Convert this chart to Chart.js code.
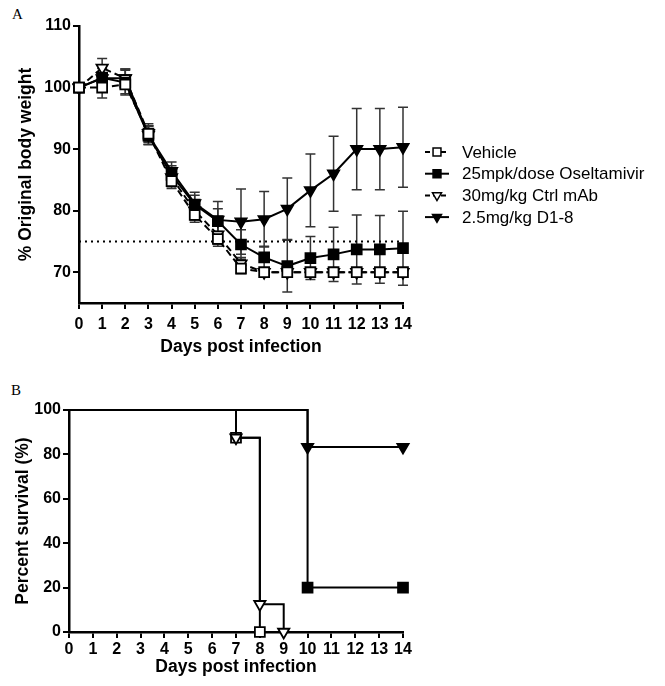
<!DOCTYPE html>
<html>
<head>
<meta charset="utf-8">
<script src="https://cdn.jsdelivr.net/npm/chart.js@4"></script>
<style>
  body { margin: 0; background: #fff; }
  .panel { position: absolute; left: 0; width: 665px; }
  .tag { position: absolute; font-family: "Liberation Serif", "DejaVu Serif", serif; font-size: 15px; color: #000; }
</style>
</head>
<body>
<div class="tag" style="left:12px;top:6px;">A</div>
<div class="panel" style="top:0;height:375px;"><canvas id="weight-chart"></canvas></div>
<div class="tag" style="left:11px;top:382px;">B</div>
<div class="panel" style="top:380px;height:306px;"><canvas id="survival-chart"></canvas></div>
<script>
// panel A: body weight (mean and error per day)
const days = [0, 1, 2, 3, 4, 5, 6, 7, 8, 9, 10, 11, 12, 13, 14];
const vehicleWeight = [100, 100, 100.5, 92.5, 84.8, 79.3, 75.4, 70.6, 70, 70, 70, 70, 70, 70, 70];
const vehicleErr = [0, 1.7, 1.5, 1.3, 1.2, 1.2, 1.2, 0.8, 0.3, 0.3, 0.3, 0.3, 0.3, 0.3, 0.3];
const oseltWeight = [100, 101.6, 100.8, 92.2, 85.8, 81, 78.3, 74.5, 72.4, 71, 72.3, 72.9, 73.7, 73.7, 73.9];
const oseltErr = [0, 1.5, 2, 1.5, 1.5, 1.5, 2, 2.4, 1.8, 4.2, 3.5, 4.4, 5.6, 5.5, 6];
const ctrlWeight = [100, 103.2, 101.5, 92.6, 85.4, 80, 76.1, 71.4, 70, 70, 70, 70, 70, 70, 70];
const ctrlErr = [0, 1.5, 1.5, 1.5, 1.5, 1.5, 1.5, 1, 0.3, 0.3, 0.3, 0.3, 0.3, 0.3, 0.3];
const d18Weight = [100, 101.5, 101.5, 92.3, 86.4, 81.2, 78.5, 78.2, 78.6, 80.3, 83.3, 86, 90, 90, 90.3];
const d18Err = [0, 2, 1.5, 1.5, 1.5, 1.8, 3, 5.3, 4.5, 5, 5.9, 6.1, 6.6, 6.6, 6.5];
const threshold = 75;
const weightTicks = [70, 80, 90, 100, 110];

// panel B: survival steps (day, percent)
const vehicleSurvDays = [0, 7, 8];
const vehicleSurv = [100, 87.5, 0];
const oseltSurvDays = [0, 10, 14];
const oseltSurv = [100, 20, 20];
const ctrlSurvDays = [0, 7, 8, 9];
const ctrlSurv = [100, 87.5, 12.5, 0];
const d18SurvDays = [0, 10, 14];
const d18Surv = [100, 83.3, 83.3];
const survivalTicks = [0, 20, 40, 60, 80, 100];

const groupNames = ["Vehicle", "25mpk/dose Oseltamivir", "30mg/kg Ctrl mAb", "2.5mg/kg D1-8"];

const tickFont = { family: "Liberation Sans, Arial, sans-serif", size: 16, weight: "bold" };
const titleFont = { family: "Liberation Sans, Arial, sans-serif", size: 17.5, weight: "bold" };

const markers = [
  { pointStyle: "rect", radius: 7, rotation: 0, fill: "#fff" },
  { pointStyle: "rect", radius: 7, rotation: 0, fill: "#000" },
  { pointStyle: "triangle", radius: 6.5, rotation: 180, fill: "#fff" },
  { pointStyle: "triangle", radius: 6.5, rotation: 180, fill: "#000" },
];

function lineSet(label, data, err, i, dashed) {
  return {
    label: label,
    data: data,
    err: err,
    borderColor: "#000",
    borderWidth: 2,
    borderDash: dashed ? [7, 4] : [],
    pointStyle: markers[i].pointStyle,
    pointRotation: markers[i].rotation,
    pointRadius: markers[i].radius,
    pointBorderWidth: 1.8,
    pointBackgroundColor: markers[i].fill,
    pointBorderColor: "#000",
    tension: 0,
  };
}

// error bars drawn under the markers
const errorBars = {
  id: "errorBars",
  beforeDatasetsDraw(chart) {
    const ctx = chart.ctx;
    const xs = chart.scales.x, ys = chart.scales.y;
    ctx.save();
    ctx.strokeStyle = "#333";
    ctx.lineWidth = 1.5;
    chart.data.datasets.forEach((ds) => {
      if (!ds.err) return;
      ds.data.forEach((v, k) => {
        const e = ds.err[k];
        if (!e) return;
        const x = xs.getPixelForValue(k);
        const top = ys.getPixelForValue(v + e);
        const bot = ys.getPixelForValue(v - e);
        ctx.beginPath();
        ctx.moveTo(x, top); ctx.lineTo(x, bot);
        ctx.moveTo(x - 5, top); ctx.lineTo(x + 5, top);
        ctx.moveTo(x - 5, bot); ctx.lineTo(x + 5, bot);
        ctx.stroke();
      });
    });
    ctx.restore();
  },
};

// legend placed beside the plot like the original figure
const sideLegend = {
  id: "sideLegend",
  afterDraw(chart, args, opts) {
    const ctx = chart.ctx;
    ctx.save();
    opts.rows.forEach((row, i) => {
      const y = opts.top + i * opts.gap;
      ctx.strokeStyle = "#000";
      ctx.lineWidth = 2;
      ctx.setLineDash(row.dashed ? [5, 3] : []);
      ctx.beginPath();
      ctx.moveTo(opts.x - 12, y);
      ctx.lineTo(opts.x + 12, y);
      ctx.stroke();
      ctx.setLineDash([]);
      ctx.fillStyle = markers[i].fill;
      ctx.lineWidth = 1.5;
      Chart.helpers.drawPoint(ctx, {
        pointStyle: markers[i].pointStyle,
        radius: markers[i].radius * 0.8,
        rotation: markers[i].rotation,
        borderWidth: 1.5,
      }, opts.x, y);
      ctx.fillStyle = "#000";
      ctx.font = "17px Liberation Sans, Arial, sans-serif";
      ctx.textBaseline = "middle";
      ctx.fillText(row.label, opts.x + 25, y + 1);
    });
    ctx.restore();
  },
};

function axisOptions(opts) {
  return Object.assign({
    border: { display: true, color: "#000", width: 2.5 },
    grid: { drawOnChartArea: false, drawTicks: true, tickLength: 6, color: "#000", lineWidth: 2 },
  }, opts);
}

new Chart(document.getElementById("weight-chart"), {
  type: "line",
  data: {
    labels: days,
    datasets: [
      lineSet(groupNames[0], vehicleWeight, vehicleErr, 0, true),
      lineSet(groupNames[1], oseltWeight, oseltErr, 1, false),
      lineSet(groupNames[2], ctrlWeight, ctrlErr, 2, true),
      lineSet(groupNames[3], d18Weight, d18Err, 3, false),
      {
        label: "threshold",
        data: days.map(() => threshold),
        borderColor: "#000",
        borderWidth: 2,
        borderDash: [2, 4],
        pointRadius: 0,
      },
    ],
  },
  options: {
    responsive: true,
    maintainAspectRatio: false,
    animation: false,
    layout: { padding: { top: 26, right: 262, left: 0, bottom: 0 } },
    plugins: {
      legend: { display: false },
      tooltip: { enabled: false },
      sideLegend: {
        x: 437, top: 152, gap: 21.7,
        rows: groupNames.map((n, i) => ({ label: n, dashed: i === 0 || i === 2 })),
      },
    },
    scales: {
      x: axisOptions({
        afterFit: (s) => { s.height = 72; },
        ticks: { color: "#000", font: tickFont, padding: 6, maxRotation: 0, autoSkip: false },
        title: { display: true, text: "Days post infection", color: "#000", font: titleFont, padding: { top: 0, bottom: 17 } },
      }),
      y: axisOptions({
        min: 65,
        max: 110,
        afterFit: (s) => { s.width = 79; },
        afterBuildTicks: (s) => { s.ticks = weightTicks.map((v) => ({ value: v })); },
        ticks: { color: "#000", font: tickFont, padding: 2 },
        title: { display: true, text: "% Original body weight", color: "#000", font: titleFont, padding: { top: 16, bottom: 0 } },
      }),
    },
  },
  plugins: [errorBars, sideLegend],
});

function survSet(label, xs, ys, i) {
  return {
    label: label,
    data: xs.map((d, k) => ({ x: d, y: ys[k] })),
    stepped: true,
    borderColor: "#000",
    borderWidth: 2,
    pointStyle: markers[i].pointStyle,
    pointRotation: markers[i].rotation,
    pointRadius: xs.map((d, k) => (k === 0 ? 0 : markers[i].radius)),
    pointBorderWidth: 1.8,
    pointBackgroundColor: markers[i].fill,
    pointBorderColor: "#000",
    clip: false,
  };
}

new Chart(document.getElementById("survival-chart"), {
  type: "line",
  data: {
    datasets: [
      survSet(groupNames[1], oseltSurvDays, oseltSurv, 1),
      survSet(groupNames[3], d18SurvDays, d18Surv, 3),
      survSet(groupNames[2], ctrlSurvDays, ctrlSurv, 2),
      survSet(groupNames[0], vehicleSurvDays, vehicleSurv, 0),
    ],
  },
  options: {
    responsive: true,
    maintainAspectRatio: false,
    animation: false,
    layout: { padding: { top: 30, right: 262, left: 0, bottom: 0 } },
    plugins: {
      legend: { display: false },
      tooltip: { enabled: false },
      sideLegend: {
        x: 436, top: 457, gap: 23.8,
        rows: groupNames.map((n) => ({ label: n, dashed: false })),
      },
    },
    scales: {
      x: axisOptions({
        type: "linear",
        min: 0,
        max: 14,
        afterFit: (s) => { s.height = 54; },
        afterBuildTicks: (s) => { s.ticks = days.map((v) => ({ value: v })); },
        ticks: { color: "#000", font: tickFont, padding: 2 },
        title: { display: true, text: "Days post infection", color: "#000", font: titleFont, padding: { top: 0, bottom: 8 } },
      }),
      y: axisOptions({
        min: 0,
        max: 100,
        afterFit: (s) => { s.width = 69; },
        afterBuildTicks: (s) => { s.ticks = survivalTicks.map((v) => ({ value: v })); },
        ticks: { color: "#000", font: tickFont, padding: 2 },
        title: { display: true, text: "Percent survival (%)", color: "#000", font: titleFont, padding: { top: 13, bottom: 0 } },
      }),
    },
  },
  plugins: [sideLegend],
});
</script>
</body>
</html>
